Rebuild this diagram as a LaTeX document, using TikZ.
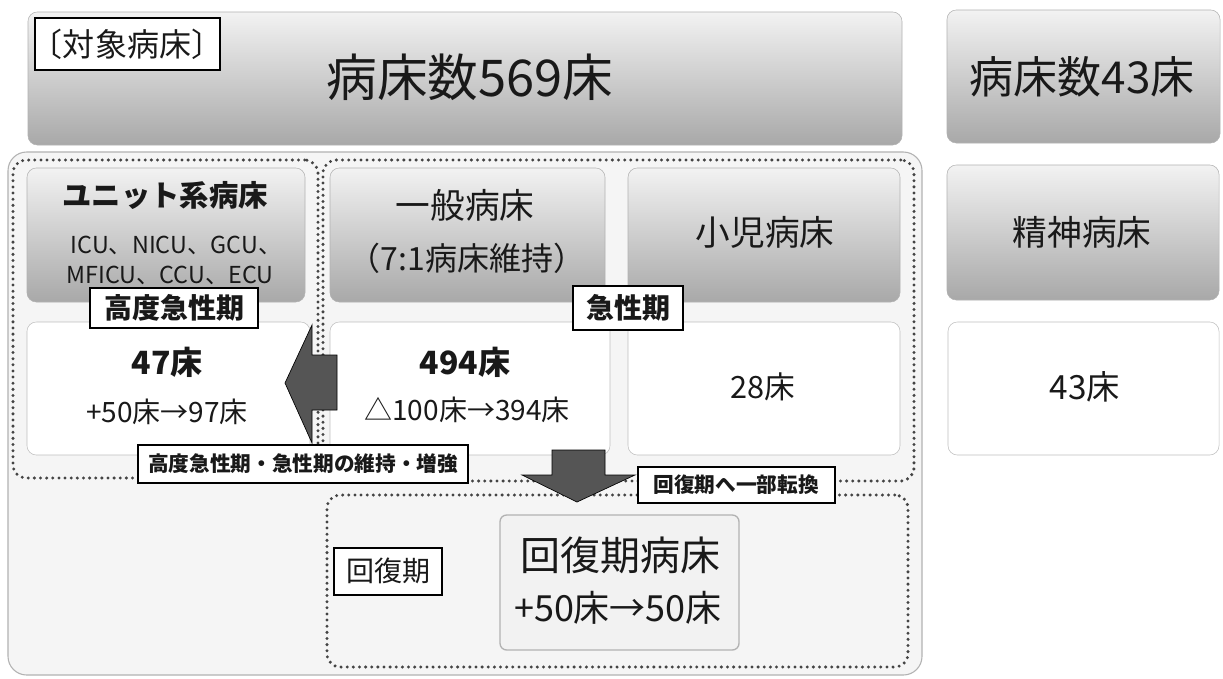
\documentclass[tikz,border=0pt]{standalone}
\usepackage{fontspec}
\setmainfont{Noto Sans CJK JP}
\usetikzlibrary{fit}
\definecolor{arrowgray}{HTML}{555555}
\definecolor{dotgray}{HTML}{444444}
\newcommand{\fsz}[1]{\fontsize{#1}{#1}\selectfont}
\tikzset{
 hdr/.style={rounded corners=7pt, top color=gray!10, middle color=gray!25, bottom color=gray!68, draw=gray!60, inner sep=0pt},
 wbox/.style={rounded corners=7pt, fill=white, draw=gray!50, inner sep=0pt},
 tagbox/.style={draw=black, line width=1.2pt, fill=white, inner sep=0pt},
 dotbox/.style={draw=dotgray, line width=2.5pt, dash pattern=on 0pt off 4.6pt, line cap=round, rounded corners=10pt, inner sep=0pt},
 outerbox/.style={draw=gray!60, line width=0.8pt, fill=gray!8, rounded corners=14pt, inner sep=0pt},
 blockarrow/.style={fill=arrowgray, draw=black, line width=0.5pt},
 txt/.style={inner sep=0pt, text=black!90, align=center},
}
\begin{document}
\begin{tikzpicture}[x=0.75pt,y=-0.75pt]
\useasboundingbox[fill=white] (0,0) rectangle (1223,678);
% top headers
\node[hdr, fit={(28,12) (902,145)}] (tophdr) {};
\node[hdr, fit={(947,10) (1220,143)}] (righthdr) {};
\node[tagbox, fit={(35,18) (220,70)}] (taisho) {};
\node[txt] (taishotxt) at (127,44) {\fsz{24}〔対象病床〕};
\node[txt] (t569) at (470,77) {\fsz{38}病床数569床};
\node[txt] (t43) at (1082,77) {\fsz{33}病床数43床};
% outer area
\node[outerbox, fit={(8,152) (922,675)}] (outer) {};
\node[dotbox, fit={(13,160) (318,478)}] (dotleft) {};
\node[dotbox, fit={(323,160) (914,481)}] (dotmid) {};
\node[dotbox, fit={(327,495) (908,667)}] (dotbottom) {};
% headers
\node[hdr, fit={(27,168) (305,302)}] (hunit) {};
\node[hdr, fit={(330,168) (605,302)}] (hgen) {};
\node[hdr, fit={(628,168) (900,302)}] (hped) {};
\node[hdr, fit={(947,165) (1219,300)}] (hpsy) {};
\node[txt] (unittxt) at (165,195) {\fsz{22}\bfseries ユニット系病床};
\node[txt] (unit1) at (176,245) {\fsz{17.5}ICU、NICU、GCU、};
\node[txt] (unit2) at (170,275) {\fsz{17.5}MFICU、CCU、ECU};
\node[txt] (gentxt) at (465,205) {\fsz{26}一般病床};
\node[txt] (gen2) at (467,258) {\fsz{24}（7:1病床維持）};
\node[txt] (pedtxt) at (765,232) {\fsz{26}小児病床};
\node[txt] (psytxt) at (1082,232) {\fsz{26}精神病床};
% white boxes
\node[wbox, fit={(27,322) (310,455)}] (wunit) {};
\node[wbox, fit={(330,322) (610,455)}] (wgen) {};
\node[wbox, fit={(628,322) (900,455)}] (wped) {};
\node[wbox, fit={(948,322) (1219,455)}] (wpsy) {};
\node[txt] (n47) at (167,362) {\fsz{24}\bfseries 47床};
\node[txt] (n97) at (167,412) {\fsz{21}+50床→97床};
\node[txt] (n494) at (465,362) {\fsz{24}\bfseries 494床};
\node[txt] (n394) at (467,410) {\fsz{21}△100床→394床};
\node[txt] (n28) at (763,387) {\fsz{23}28床};
\node[txt] (n43) at (1085,387) {\fsz{25}43床};
% labels
\node[tagbox, fit={(90,288) (258,328)}] (kodo) {};
\node[txt] (kodotxt) at (174,308) {\fsz{21}\bfseries 高度急性期};
\node[tagbox, fit={(573,286) (683,330)}] (kyusei) {};
\node[txt] (kyuseitxt) at (628,308) {\fsz{21}\bfseries 急性期};
% arrows
\fill[blockarrow] (285,383) -- (312,325) -- (312,355) -- (337,355) -- (337,410) -- (312,410) -- (312,443) -- cycle;
\fill[blockarrow] (552,450) -- (605,450) -- (605,475) -- (635,475) -- (577,502) -- (522,475) -- (552,475) -- cycle;
\node[tagbox, fit={(138,445) (468,483)}] (iji) {};
\node[txt] (ijitxt) at (303,464) {\fsz{15.5}\bfseries 高度急性期・急性期の維持・増強};
\node[tagbox, fit={(638,467) (835,503)}] (tenkan) {};
\node[txt] (tenkantxt) at (736,485) {\fsz{15.5}\bfseries 回復期へ一部転換};
% recovery
\node[tagbox, fit={(334,548) (442,595)}] (kaifuku) {};
\node[txt] (kaifukutxt) at (388,571) {\fsz{21}回復期};
\node[draw=gray!60, line width=1pt, fill=gray!10, rounded corners=5pt, inner sep=0pt, fit={(500,515) (739,650)}] (kbox) {};
\node[txt] (kbox1) at (620,555) {\fsz{30}回復期病床};
\node[txt] (kbox2) at (618,608) {\fsz{27}+50床→50床};
\end{tikzpicture}
\end{document}
